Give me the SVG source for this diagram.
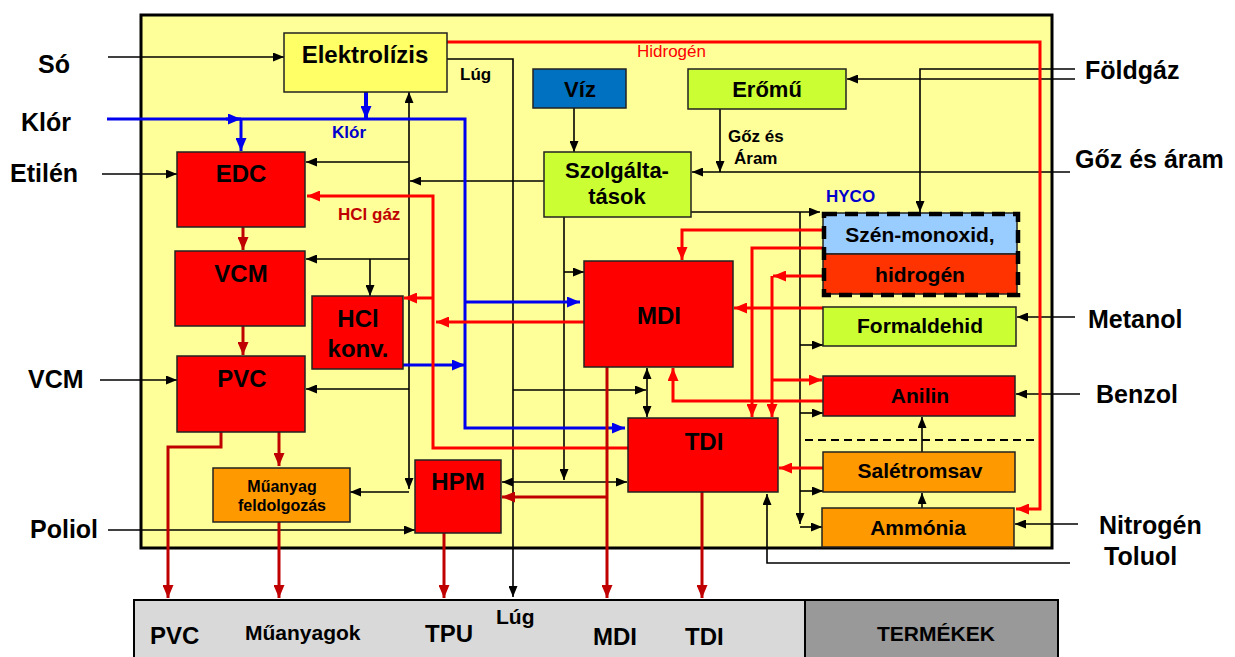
<svg xmlns="http://www.w3.org/2000/svg" width="1235" height="657" viewBox="0 0 1235 657">
<defs>
<style>
text{font-family:"Liberation Sans",Arial,sans-serif;font-weight:bold;fill:#000}
.lbl{font-size:25px}
.n24{font-size:24px;text-anchor:middle}
.n22{font-size:22px;text-anchor:middle}
.n21{font-size:21px;text-anchor:middle}
.s17{font-size:17px}
.box{stroke:#222;stroke-width:1.5}
.red{fill:#FF0000}
.lime{fill:#CCFF33}
.org{fill:#FF9900}
.k{fill:none;stroke:#000;stroke-width:1.6;marker-end:url(#aK)}
.kl{fill:none;stroke:#000;stroke-width:1.6}
.r{fill:none;stroke:#FF0000;stroke-width:3;marker-end:url(#aR)}
.dr{fill:none;stroke:#C00000;stroke-width:3;marker-end:url(#aD)}
.b{fill:none;stroke:#0000EE;stroke-width:3;marker-end:url(#aB)}
</style>
<marker id="aK" markerUnits="userSpaceOnUse" markerWidth="11" markerHeight="9" refX="11" refY="4.5" orient="auto-start-reverse"><path d="M0,0 L11,4.5 L0,9 z" fill="#000"/></marker>
<marker id="aR" markerUnits="userSpaceOnUse" markerWidth="13" markerHeight="11" refX="13" refY="5.5" orient="auto"><path d="M0,0 L13,5.5 L0,11 z" fill="#FF0000"/></marker>
<marker id="aD" markerUnits="userSpaceOnUse" markerWidth="13" markerHeight="11" refX="13" refY="5.5" orient="auto"><path d="M0,0 L13,5.5 L0,11 z" fill="#C00000"/></marker>
<marker id="aB" markerUnits="userSpaceOnUse" markerWidth="13" markerHeight="11" refX="13" refY="5.5" orient="auto"><path d="M0,0 L13,5.5 L0,11 z" fill="#0000EE"/></marker>
</defs>
<rect x="0" y="0" width="1235" height="657" fill="#fff"/>
<g id="plant">
<rect x="141" y="15" width="911" height="533" fill="#FFFF99" stroke="#000" stroke-width="3"/>
<path d="M805,440 H1040" stroke="#000" stroke-width="2" stroke-dasharray="8,5" fill="none"/>
</g>
<g id="products">
<rect x="134" y="600" width="671" height="60" fill="#D9D9D9" stroke="#000" stroke-width="2"/>
<rect x="805" y="600" width="253" height="60" fill="#999999" stroke="#000" stroke-width="2"/>
<text x="150" y="644" style="font-size:24px">PVC</text>
<text x="245" y="640" style="font-size:21px">Műanyagok</text>
<text x="425" y="642" style="font-size:24px">TPU</text>
<text x="496" y="624" style="font-size:21px">Lúg</text>
<text x="593" y="645" style="font-size:24px">MDI</text>
<text x="685" y="645" style="font-size:24px">TDI</text>
<text x="877" y="641" style="font-size:21px">TERMÉKEK</text>
</g>
<g id="inputs">
<text class="lbl" x="38" y="73">Só</text>
<text class="lbl" x="21" y="131">Klór</text>
<text class="lbl" x="10" y="182">Etilén</text>
<text class="lbl" x="28" y="388">VCM</text>
<text class="lbl" x="30" y="538">Poliol</text>
<text class="lbl" x="1085" y="79">Földgáz</text>
<text class="lbl" x="1075" y="168">Gőz és áram</text>
<text class="lbl" x="1088" y="328">Metanol</text>
<text class="lbl" x="1096" y="403">Benzol</text>
<text class="lbl" x="1099" y="534">Nitrogén</text>
<text class="lbl" x="1104" y="565">Toluol</text>
</g>
<g id="connectors">
<path class="k" d="M108,57 H284"/>
<path class="k" d="M102,174 H177"/>
<path class="k" d="M100,380 H177"/>
<path class="k" d="M108,530 H415"/>
<path class="k" d="M1075,79 H847"/>
<path class="k" d="M1075,69 H920 V212"/>
<path class="k" d="M1070,172 H692"/>
<path class="k" d="M720,109 V172"/>
<path class="k" d="M574,108 V152"/>
<path class="k" d="M691,212 H820"/>
<path class="k" d="M800,212 V524"/>
<path class="k" d="M800,527 H822"/>
<path class="k" d="M800,345 H823"/>
<path class="k" d="M800,413 H823"/>
<path class="k" d="M800,491 H823"/>
<path class="k" d="M544,181 H410"/>
<path class="k" d="M409,181 V92"/>
<path class="k" d="M409,181 V489"/>
<path class="k" d="M409,492 H350"/>
<path class="k" d="M409,162 H306"/>
<path class="k" d="M409,259 H306"/>
<path class="k" d="M370,259 V296"/>
<path class="k" d="M409,389 H306"/>
<path class="k" d="M447,59 H513 V597"/>
<path class="k" d="M513,390 H646"/>
<path class="k" d="M647,368 V417" marker-start="url(#aK)"/>
<path class="k" d="M564,217 V480"/>
<path class="k" d="M564,272 H584"/>
<path class="k" d="M502,482 H627" marker-start="url(#aK)"/>
<path class="k" d="M1075,317 H1017"/>
<path class="k" d="M1080,394 H1016"/>
<path class="k" d="M1078,524 H1015"/>
<path class="k" d="M1070,563 H767 V494"/>
<path class="k" d="M922,452 V417"/>
<path class="k" d="M922,508 V493"/>
<path class="b" d="M107,119 H465 V428 H625"/>
<path class="b" d="M226,119 H241"/>
<path class="b" d="M241,119 V151"/>
<path class="b" d="M366,92 V119" style="stroke-width:4"/>
<path class="b" d="M465,302 H580"/>
<path class="b" d="M403,365 H465"/>
<path class="r" d="M447,42 H1040 V509 H1016"/>
<path class="r" d="M628,448 H433 V196 H307"/>
<path class="r" d="M433,298 H404"/>
<path class="r" d="M584,322 H436"/>
<path class="r" d="M823,230 H682 V260"/>
<path class="r" d="M823,248 H752 V417"/>
<path class="r" d="M823,276 H773"/>
<path class="r" d="M772,276 V417"/>
<path class="r" d="M772,380 H822"/>
<path class="r" d="M823,308 H734"/>
<path class="r" d="M823,401 H673 V368"/>
<path class="r" d="M823,468 H779"/>
<path class="dr" d="M243,227 V250"/>
<path class="dr" d="M243,326 V355"/>
<path class="dr" d="M221,432 V447 H168 V598"/>
<path class="dr" d="M279,432 V466"/>
<path class="dr" d="M279,522 V598"/>
<path class="dr" d="M444,533 V598"/>
<path class="dr" d="M607,367 V598"/>
<path class="dr" d="M607,497 H502"/>
<path class="dr" d="M702,492 V598"/>
</g>
<g id="labels">
<text x="637" y="57" style="font-size:17px;font-weight:normal;fill:#FF0000">Hidrogén</text>
<text class="s17" x="332" y="138" style="fill:#0000CC">Klór</text>
<text class="s17" x="338" y="220" style="fill:#C00000">HCl gáz</text>
<text class="s17" x="460" y="80">Lúg</text>
<text class="s17" x="728" y="142">Gőz és</text>
<text class="s17" x="734" y="164">Áram</text>
<text class="s17" x="826" y="202" style="fill:#0000CC">HYCO</text>
</g>
<g id="elektrolizis"><rect class="box" x="284" y="33" width="163" height="59" fill="#FFFF66"/><text class="n24" x="365" y="63">Elektrolízis</text></g>
<g id="viz"><rect class="box" x="533" y="69" width="93" height="39" fill="#0070C0"/><text class="n22" x="580" y="97">Víz</text></g>
<g id="eromu"><rect class="box lime" x="688" y="69" width="158" height="40"/><text class="n22" x="767" y="97">Erőmű</text></g>
<g id="szolgaltatasok"><rect class="box lime" x="544" y="152" width="147" height="65"/><text class="n22" x="617" y="178">Szolgálta-</text><text class="n22" x="617" y="204">tások</text></g>
<g id="edc"><rect class="box red" x="177" y="152" width="128" height="75"/><text class="n24" x="241" y="182">EDC</text></g>
<g id="vcm"><rect class="box red" x="175" y="251" width="130" height="75"/><text class="n24" x="241" y="282">VCM</text></g>
<g id="hclkonv"><rect class="box red" x="312" y="296" width="91" height="73"/><text class="n24" x="358" y="327">HCl</text><text class="n24" x="358" y="357">konv.</text></g>
<g id="pvc"><rect class="box red" x="177" y="356" width="128" height="76"/><text class="n24" x="242" y="387">PVC</text></g>
<g id="muanyag"><rect class="box org" x="213" y="468" width="137" height="54"/><text x="282" y="492" style="font-size:16px;text-anchor:middle">Műanyag</text><text x="282" y="511" style="font-size:16px;text-anchor:middle">feldolgozás</text></g>
<g id="hpm"><rect class="box red" x="415" y="460" width="86" height="73"/><text class="n24" x="458" y="490">HPM</text></g>
<g id="mdi"><rect class="box red" x="584" y="261" width="149" height="106"/><text class="n24" x="659" y="324">MDI</text></g>
<g id="tdi"><rect class="box red" x="628" y="418" width="150" height="74"/><text class="n24" x="704" y="450">TDI</text></g>
<g id="hyco">
<rect class="box" x="823" y="213" width="194" height="41" fill="#99CCFF"/><text class="n21" x="920" y="242">Szén-monoxid,</text>
<rect class="box" x="823" y="254" width="194" height="40" fill="#FF3300"/><text class="n21" x="920" y="282">hidrogén</text>
<rect x="824" y="214" width="194" height="81" fill="none" stroke="#000" stroke-width="4.5" stroke-dasharray="13,8"/>
</g>
<g id="formaldehid"><rect class="box lime" x="823" y="307" width="193" height="39"/><text class="n21" x="920" y="333">Formaldehid</text></g>
<g id="anilin"><rect class="box red" x="823" y="376" width="192" height="40"/><text class="n21" x="920" y="403">Anilin</text></g>
<g id="salétromsav"><rect class="box org" x="823" y="452" width="192" height="40"/><text class="n21" x="920" y="478">Salétromsav</text></g>
<g id="ammonia"><rect class="box org" x="822" y="508" width="192" height="39"/><text class="n21" x="918" y="535">Ammónia</text></g>
</svg>
